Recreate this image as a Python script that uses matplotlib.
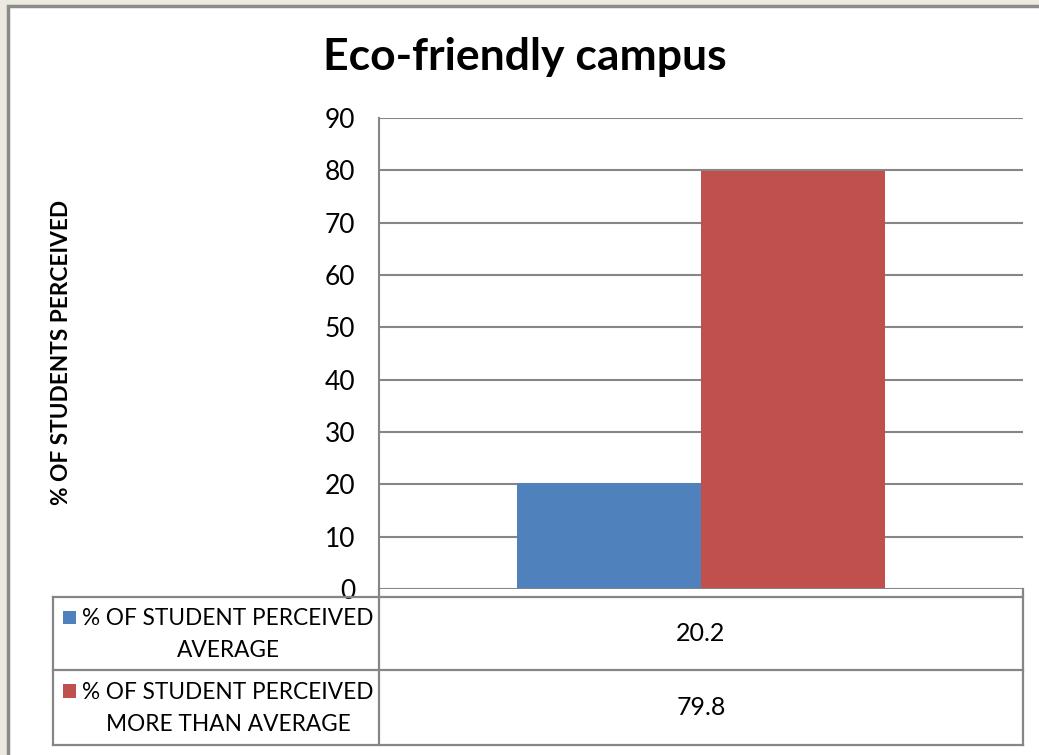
import matplotlib
matplotlib.use("Agg")
import matplotlib.pyplot as plt
from matplotlib.patches import Rectangle
from matplotlib.lines import Line2D
import numpy as np

plt.rcParams['font.family'] = ['Lato', 'DejaVu Sans']

title = "Eco-friendly campus"
ylabel = "% OF STUDENTS PERCEIVED"
series_names = ["% OF STUDENT PERCEIVED\nAVERAGE",
                "% OF STUDENT PERCEIVED\nMORE THAN AVERAGE"]
values = [20.2, 79.8]
colors = ["#4F81BD", "#C0504D"]
yticks = [0, 10, 20, 30, 40, 50, 60, 70, 80, 90]

W, H = 1039, 755
GRID = "#868686"


def fx(x):
    return x / W


def fy(y):
    return 1 - y / H


fig = plt.figure(figsize=(W / 100, H / 100), dpi=100)
fig.patch.set_facecolor("#ECE9E0")

# white chart sheet with grey frame (cropped on right/bottom)
sheet = Rectangle((fx(8), fy(H + 20)), 1.1, fy(6) - fy(H + 20),
                  transform=fig.transFigure, facecolor="white",
                  edgecolor="#8A8A8A", linewidth=2.5, zorder=0)
fig.add_artist(sheet)

left, right, top, bottom = 379, 1023, 118, 589
ax = fig.add_axes([fx(left), fy(bottom), fx(right - left), fy(top) - fy(bottom)])
ax.set_facecolor("none")

bw = 0.285
offsets = [-bw / 2, bw / 2]
for v, c, off in zip(values, colors, offsets):
    ax.bar(0 + off, v, width=bw, color=c, zorder=3)

ax.set_xlim(-0.5, 0.5)
ax.set_ylim(0, 90)
ax.set_yticks(yticks)
ax.set_yticklabels([str(t) for t in yticks], fontsize=19)
ax.tick_params(axis="y", length=0, pad=17)
ax.set_xticks([])
ax.yaxis.grid(True, color=GRID, linewidth=1.5, zorder=1)
for s in ["top", "right", "bottom"]:
    ax.spines[s].set_visible(False)
ax.spines["left"].set_color(GRID)
ax.spines["left"].set_linewidth(1.5)
ax.axhline(0, color=GRID, linewidth=2, zorder=4)

fig.text(fx(525), fy(57), title, ha="center", va="center",
         fontsize=32, fontweight="bold")
fig.text(fx(62), fy(352), ylabel, rotation=90, ha="center", va="center",
         fontsize=16.3, fontweight="bold")

# data table under the axis
t_left, t_mid, t_right = 53, 379, 1023
rows = [597, 670, 745]


def hline(y, x0, x1):
    fig.add_artist(Line2D([fx(x0), fx(x1)], [fy(y), fy(y)],
                          transform=fig.transFigure, color=GRID, lw=1.6))


def vline(x, y0, y1):
    fig.add_artist(Line2D([fx(x), fx(x)], [fy(y0), fy(y1)],
                          transform=fig.transFigure, color=GRID, lw=1.6))


for y in rows:
    hline(y, t_left, t_right)
vline(t_left, rows[0], rows[-1])
vline(t_mid, bottom, rows[-1])
vline(t_right, bottom, rows[-1])

for i, (name, v, c) in enumerate(zip(series_names, values, colors)):
    yc = (rows[i] + rows[i + 1]) / 2
    fig.add_artist(Rectangle((fx(63), fy(yc - 10)), fx(13), fy(yc - 23) - fy(yc - 10),
                             transform=fig.transFigure, facecolor=c, edgecolor="none"))
    fig.text(fx(228), fy(yc + 1), name, ha="center", va="center",
             fontsize=16.3, linespacing=1.65)
    fig.text(fx((t_mid + t_right) / 2), fy(yc), f"{v:.1f}", ha="center",
             va="center", fontsize=18)

fig.savefig("out.png", dpi=100, facecolor=fig.get_facecolor())
